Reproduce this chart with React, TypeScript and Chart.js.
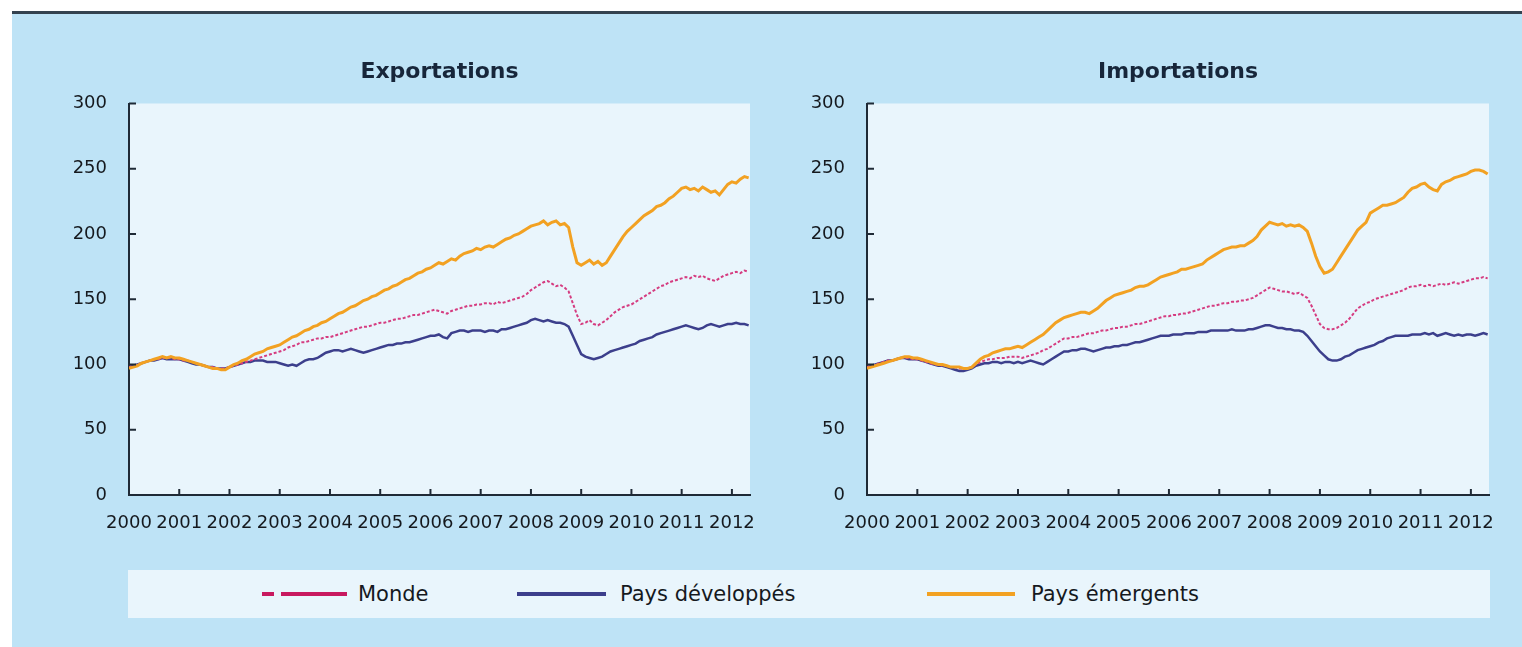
import React, { useEffect, useRef } from "react";
import { Chart, registerables } from "chart.js";

Chart.register(...registerables);

// ---------- data ----------
const YEAR_TICKS = [2000, 2001, 2002, 2003, 2004, 2005, 2006, 2007, 2008, 2009, 2010, 2011, 2012];
const VALUE_TICKS = [0, 50, 100, 150, 200, 250, 300];
const SERIES_NAMES = ["Monde", "Pays développés", "Pays émergents"];
const PANEL_TITLES = ["Exportations", "Importations"];

// monthly index, Jan 2000 .. May 2012
const EXPORTS_EMERGING = [
  97, 98, 99, 101, 102, 103, 104, 105, 106, 105, 106, 105,
  105, 104, 103, 102, 101, 100, 99, 98, 97, 97, 96, 96,
  98, 100, 101, 103, 104, 106, 108, 109, 110, 112, 113, 114,
  115, 117, 119, 121, 122, 124, 126, 127, 129, 130, 132, 133,
  135, 137, 139, 140, 142, 144, 145, 147, 149, 150, 152, 153,
  155, 157, 158, 160, 161, 163, 165, 166, 168, 170, 171, 173,
  174, 176, 178, 177, 179, 181, 180, 183, 185, 186, 187, 189,
  188, 190, 191, 190, 192, 194, 196, 197, 199, 200, 202, 204,
  206, 207, 208, 210, 207, 209, 210, 207, 208, 205, 190, 178,
  176, 178, 180, 177, 179, 176, 178, 183, 188, 193, 198, 202,
  205, 208, 211, 214, 216, 218, 221, 222, 224, 227, 229, 232,
  235, 236, 234, 235, 233, 236, 234, 232, 233, 230, 234, 238,
  240, 239, 242, 244, 243,
];
const EXPORTS_WORLD = [
  98, 99, 100, 101, 102, 103, 104, 104, 105, 105, 105, 104,
  104, 103, 103, 102, 101, 100, 99, 98, 98, 97, 97, 97,
  98, 99, 100, 101, 102, 103, 104, 105, 106, 107, 108, 109,
  110, 111, 113, 114, 115, 117, 117, 118, 119, 120, 120, 121,
  121, 122, 123, 124, 125, 126, 127, 128, 129, 129, 130, 131,
  132, 132, 133, 134, 135, 135, 136, 137, 138, 138, 139, 140,
  141, 142, 141, 140, 139, 141, 142, 143, 144, 145, 145, 146,
  146, 147, 147, 146, 148, 147, 148, 149, 150, 151, 152, 154,
  157, 159, 161, 163, 164, 162, 160, 161, 159, 156, 147, 138,
  131, 132, 134, 131, 130, 132, 134, 137, 140, 142, 144, 145,
  146, 148, 150, 152, 154, 156, 158, 160, 161, 163, 164, 165,
  166, 167, 166, 168, 167, 168, 166, 165, 164, 166, 168, 169,
  170, 171, 170, 172, 171,
];
const EXPORTS_DEVELOPED = [
  98, 99, 100, 101, 102, 103, 103, 104, 105, 104, 104, 104,
  104, 103, 102, 101, 100, 100, 99, 98, 98, 97, 97, 97,
  98, 99, 100, 101, 102, 102, 103, 103, 103, 102, 102, 102,
  101, 100, 99, 100, 99, 101, 103, 104, 104, 105, 107, 109,
  110, 111, 111, 110, 111, 112, 111, 110, 109, 110, 111, 112,
  113, 114, 115, 115, 116, 116, 117, 117, 118, 119, 120, 121,
  122, 122, 123, 121, 120, 124, 125, 126, 126, 125, 126, 126,
  126, 125, 126, 126, 125, 127, 127, 128, 129, 130, 131, 132,
  134, 135, 134, 133, 134, 133, 132, 132, 131, 129, 122, 115,
  108, 106, 105, 104, 105, 106, 108, 110, 111, 112, 113, 114,
  115, 116, 118, 119, 120, 121, 123, 124, 125, 126, 127, 128,
  129, 130, 129, 128, 127, 128, 130, 131, 130, 129, 130, 131,
  131, 132, 131, 131, 130,
];
const IMPORTS_EMERGING = [
  97, 98, 99, 100, 101, 102, 103, 104, 105, 106, 106, 105,
  105, 104, 103, 102, 101, 100, 100, 99, 98, 98, 98, 97,
  97, 98, 101, 104, 106, 107, 109, 110, 111, 112, 112, 113,
  114, 113, 115, 117, 119, 121, 123, 126, 129, 132, 134, 136,
  137, 138, 139, 140, 140, 139, 141, 143, 146, 149, 151, 153,
  154, 155, 156, 157, 159, 160, 160, 161, 163, 165, 167, 168,
  169, 170, 171, 173, 173, 174, 175, 176, 177, 180, 182, 184,
  186, 188, 189, 190, 190, 191, 191, 193, 195, 198, 203, 206,
  209, 208, 207, 208, 206, 207, 206, 207, 205, 202, 193, 183,
  175, 170, 171, 173, 178, 183, 188, 193, 198, 203, 206, 209,
  216, 218, 220, 222, 222, 223, 224, 226, 228, 232, 235, 236,
  238, 239, 236, 234, 233, 238, 240, 241, 243, 244, 245, 246,
  248, 249, 249, 248, 246,
];
const IMPORTS_WORLD = [
  98, 99, 100, 101, 102, 103, 103, 104, 105, 105, 105, 104,
  104, 103, 102, 101, 100, 100, 99, 99, 98, 98, 97, 97,
  97, 98, 100, 102, 103, 104, 104, 105, 105, 105, 106, 106,
  106, 105, 106, 107, 108, 109, 111, 112, 114, 116, 118, 120,
  120, 121, 121, 122, 123, 124, 124, 125, 126, 126, 127, 128,
  128, 129, 129, 130, 131, 131, 132, 133, 134, 135, 136, 137,
  137, 138, 138, 139, 139, 140, 141, 142, 143, 144, 145, 145,
  146, 147, 147, 148, 148, 149, 149, 150, 151, 153, 155, 157,
  159, 158, 157, 156, 156, 155, 154, 155, 153, 151, 145, 138,
  131, 128, 127, 127, 128, 130, 132, 135, 139, 143, 145, 147,
  148, 150, 151, 152, 153, 154, 155, 156, 157, 159, 160, 160,
  161, 160, 161, 160, 161, 162, 161, 162, 163, 162, 163, 164,
  165, 166, 166, 167, 166,
];
const IMPORTS_DEVELOPED = [
  98, 99, 100, 101, 102, 103, 103, 104, 105, 105, 104, 104,
  104, 103, 102, 101, 100, 99, 99, 98, 97, 96, 95, 95,
  96, 97, 99, 100, 101, 101, 102, 102, 101, 102, 102, 101,
  102, 101, 102, 103, 102, 101, 100, 102, 104, 106, 108, 110,
  110, 111, 111, 112, 112, 111, 110, 111, 112, 113, 113, 114,
  114, 115, 115, 116, 117, 117, 118, 119, 120, 121, 122, 122,
  122, 123, 123, 123, 124, 124, 124, 125, 125, 125, 126, 126,
  126, 126, 126, 127, 126, 126, 126, 127, 127, 128, 129, 130,
  130, 129, 128, 128, 127, 127, 126, 126, 125, 122, 118, 114,
  110, 107, 104, 103, 103, 104, 106, 107, 109, 111, 112, 113,
  114, 115, 117, 118, 120, 121, 122, 122, 122, 122, 123, 123,
  123, 124, 123, 124, 122, 123, 124, 123, 122, 123, 122, 123,
  123, 122, 123, 124, 123,
];

const FIRST_YEAR = 2000;
const MONTHS_PER_YEAR = 12;
const X_MAX = 2012.36;

// ---------- style ----------
const FONT = "'DejaVu Sans', sans-serif";
const PANEL_BG = "#bee3f6";
const PLOT_BG = "#e9f5fc";
const AXIS_COLOR = "#1f2a36";
const TEXT_COLOR = "#15191e";
const TITLE_COLOR = "#17263a";
const ORANGE = "#f2a122";
const PINK = "#d53c80";
const PINK_LEGEND = "#c8195f";
const NAVY = "#3c3f8c";

const plotBgPlugin = {
  id: "plotBg",
  beforeDraw(chart: any) {
    const { ctx, chartArea } = chart;
    ctx.save();
    ctx.fillStyle = PLOT_BG;
    ctx.fillRect(chartArea.left, chartArea.top, chartArea.right - chartArea.left, chartArea.bottom - chartArea.top);
    ctx.restore();
  },
};

const inwardTicksPlugin = {
  id: "inwardTicks",
  afterDraw(chart: any) {
    const { ctx, chartArea } = chart;
    const xs = chart.scales.x;
    const ys = chart.scales.y;
    ctx.save();
    ctx.strokeStyle = AXIS_COLOR;
    ctx.lineWidth = 2;
    xs.ticks.forEach((t: any) => {
      const px = xs.getPixelForValue(t.value);
      ctx.beginPath();
      ctx.moveTo(px, chartArea.bottom);
      ctx.lineTo(px, chartArea.bottom - 6);
      ctx.stroke();
    });
    ys.ticks.forEach((t: any) => {
      const py = ys.getPixelForValue(t.value);
      ctx.beginPath();
      ctx.moveTo(chartArea.left, py);
      ctx.lineTo(chartArea.left + 7, py);
      ctx.stroke();
    });
    ctx.restore();
  },
};

const toPoints = (arr: number[]) => arr.map((v, i) => ({ x: FIRST_YEAR + i / MONTHS_PER_YEAR, y: v }));

type PanelProps = {
  title: string;
  world: number[];
  developed: number[];
  emerging: number[];
  left: number;
  width: number;
  padRight: number;
  yWidth: number;
};

const CANVAS_TOP = 15;
const CANVAS_H = 545;

function ChartPanel({ title, world, developed, emerging, left, width, padRight, yWidth }: PanelProps) {
  const ref = useRef<HTMLCanvasElement | null>(null);
  useEffect(() => {
    if (!ref.current) return;
    const chart = new Chart(ref.current, {
      type: "line",
      data: {
        datasets: [
          {
            label: SERIES_NAMES[2],
            data: toPoints(emerging),
            borderColor: ORANGE,
            borderWidth: 3,
            pointRadius: 0,
            tension: 0,
          },
          {
            label: SERIES_NAMES[0],
            data: toPoints(world),
            borderColor: PINK,
            borderWidth: 2,
            borderDash: [3, 2],
            pointRadius: 0,
            tension: 0,
          },
          {
            label: SERIES_NAMES[1],
            data: toPoints(developed),
            borderColor: NAVY,
            borderWidth: 2.5,
            pointRadius: 0,
            tension: 0,
          },
        ],
      },
      options: {
        responsive: false,
        animation: false,
        events: [],
        layout: { padding: { left: 0, right: padRight, top: 0, bottom: 0 } },
        plugins: {
          legend: { display: false },
          tooltip: { enabled: false },
          title: {
            display: true,
            text: title,
            fullSize: false,
            color: TITLE_COLOR,
            font: { family: FONT, size: 22, weight: "bold", lineHeight: 1.2 },
            padding: { top: 44, bottom: 18.1 },
          },
        },
        scales: {
          x: {
            type: "linear",
            min: FIRST_YEAR,
            max: X_MAX,
            grid: { display: false },
            border: { display: true, color: AXIS_COLOR, width: 2 },
            ticks: {
              color: TEXT_COLOR,
              font: { family: FONT, size: 18 },
              padding: 10,
              autoSkip: false,
              maxRotation: 0,
              callback: (v: any) => String(v),
            },
            afterBuildTicks: (s: any) => {
              s.ticks = YEAR_TICKS.map((v) => ({ value: v }));
            },
            afterFit: (s: any) => {
              s.height = 65;
            },
          },
          y: {
            min: 0,
            max: 300,
            grid: { display: false },
            border: { display: true, color: AXIS_COLOR, width: 2 },
            ticks: {
              color: TEXT_COLOR,
              font: { family: FONT, size: 18 },
              padding: 14,
              callback: (v: any) => String(v),
            },
            afterBuildTicks: (s: any) => {
              s.ticks = VALUE_TICKS.map((v) => ({ value: v }));
            },
            afterFit: (s: any) => {
              s.width = yWidth;
            },
          },
        },
      } as any,
      plugins: [plotBgPlugin, inwardTicksPlugin],
    });
    return () => chart.destroy();
  }, [title, world, developed, emerging, padRight, yWidth]);

  return (
    <canvas
      ref={ref}
      width={width}
      height={CANVAS_H}
      style={{ position: "absolute", left, top: CANVAS_TOP, width, height: CANVAS_H }}
    />
  );
}

const legendText: React.CSSProperties = {
  position: "absolute",
  top: 570,
  height: 48,
  lineHeight: "48px",
  fontFamily: FONT,
  fontSize: 21,
  color: TEXT_COLOR,
  whiteSpace: "nowrap",
};

function lineBar(left: number, width: number, color: string): React.CSSProperties {
  return { position: "absolute", left, top: 592, width, height: 4, background: color };
}

export default function App() {
  return (
    <div
      style={{
        position: "absolute",
        left: 0,
        top: 0,
        width: 1522,
        height: 647,
        overflow: "hidden",
        background: "#ffffff",
      }}
    >
      <div style={{ position: "absolute", left: 12, top: 11, width: 1510, height: 3, background: "#34424f" }} />
      <div style={{ position: "absolute", left: 12, top: 14, width: 1510, height: 633, background: PANEL_BG }} />

      <ChartPanel
        title={PANEL_TITLES[0]}
        world={EXPORTS_WORLD}
        developed={EXPORTS_DEVELOPED}
        emerging={EXPORTS_EMERGING}
        left={12}
        width={758}
        padRight={20}
        yWidth={117}
      />
      <ChartPanel
        title={PANEL_TITLES[1]}
        world={IMPORTS_WORLD}
        developed={IMPORTS_DEVELOPED}
        emerging={IMPORTS_EMERGING}
        left={770}
        width={740}
        padRight={21}
        yWidth={97}
      />

      <div style={{ position: "absolute", left: 128, top: 570, width: 1362, height: 48, background: PLOT_BG }} />
      <div style={lineBar(262, 12, PINK_LEGEND)} />
      <div style={lineBar(281, 66, PINK_LEGEND)} />
      <span style={{ ...legendText, left: 358 }}>{SERIES_NAMES[0]}</span>
      <div style={lineBar(517, 89, NAVY)} />
      <span style={{ ...legendText, left: 620 }}>{SERIES_NAMES[1]}</span>
      <div style={lineBar(927, 88, ORANGE)} />
      <span style={{ ...legendText, left: 1031 }}>{SERIES_NAMES[2]}</span>
    </div>
  );
}
